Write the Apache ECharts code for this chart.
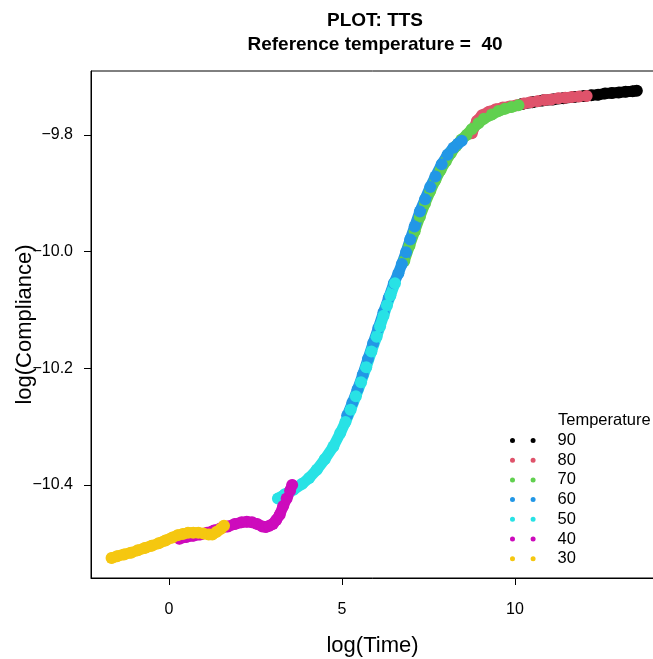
<!DOCTYPE html>
<html>
<head>
<meta charset="utf-8">
<script src="https://cdn.jsdelivr.net/npm/echarts@6/dist/echarts.min.js"></script>
<style>
html,body{margin:0;padding:0;background:#fff;}
#chart{width:653px;height:659px;}
</style>
</head>
<body>
<div id="chart"></div>
<script>
// Temperatures (legend order, also drawing order)
const temperatures = ['90', '80', '70', '60', '50', '40', '30'];
const temperatureColors = ['#000000', '#DF536B', '#61D04F', '#2297E6', '#28E2E5', '#CD0BBC', '#F5C710'];

// Shifted data: [log(Time), log(Compliance)]
const temp90 = [[10.20,-9.747],[10.50,-9.744],[10.80,-9.741],[11.10,-9.739],[11.40,-9.737],[11.70,-9.735],[12.00,-9.733],[12.20,-9.732],[12.40,-9.731],[12.60,-9.729],[12.80,-9.728],[13.00,-9.727],[13.20,-9.726],[13.40,-9.725],[13.52,-9.724]];
const temp80 = [[8.75,-9.797],[8.90,-9.776],[9.05,-9.766],[9.25,-9.760],[9.45,-9.756],[9.65,-9.753],[9.85,-9.751],[10.05,-9.749],[10.25,-9.746],[10.45,-9.744],[10.65,-9.742],[10.85,-9.740],[11.05,-9.739],[11.25,-9.737],[11.45,-9.736],[11.65,-9.735],[11.85,-9.734],[12.07,-9.733]];
const temp70 = [[6.80,-10.016],[6.95,-9.990],[7.10,-9.965],[7.25,-9.940],[7.40,-9.917],[7.55,-9.896],[7.70,-9.877],[7.85,-9.860],[8.00,-9.845],[8.15,-9.831],[8.30,-9.819],[8.45,-9.808],[8.60,-9.800],[8.75,-9.790],[8.94,-9.780],[9.10,-9.772],[9.33,-9.765],[9.52,-9.759],[9.71,-9.755],[9.90,-9.752],[10.10,-9.749]];
const temp60 = [[5.15,-10.281],[5.30,-10.259],[5.45,-10.236],[5.60,-10.211],[5.75,-10.184],[5.90,-10.157],[6.05,-10.131],[6.20,-10.104],[6.35,-10.079],[6.50,-10.054],[6.63,-10.037],[6.73,-10.021],[6.85,-10.001],[6.97,-9.979],[7.10,-9.957],[7.25,-9.931],[7.40,-9.910],[7.55,-9.889],[7.70,-9.871],[7.88,-9.850],[8.05,-9.834],[8.22,-9.822],[8.35,-9.815],[8.46,-9.810]];
const temp50 = [[3.15,-10.423],[3.35,-10.416],[3.60,-10.408],[3.85,-10.398],[4.05,-10.388],[4.27,-10.374],[4.50,-10.356],[4.75,-10.334],[4.95,-10.311],[5.10,-10.292],[5.25,-10.271],[5.40,-10.248],[5.55,-10.224],[5.70,-10.198],[5.85,-10.171],[6.00,-10.146],[6.10,-10.128],[6.20,-10.110],[6.30,-10.092],[6.40,-10.075],[6.53,-10.054]];
const temp40 = [[0.30,-10.492],[0.50,-10.489],[0.70,-10.487],[0.90,-10.485],[1.10,-10.482],[1.30,-10.478],[1.50,-10.474],[1.70,-10.471],[1.90,-10.467],[2.10,-10.464],[2.25,-10.463],[2.40,-10.464],[2.55,-10.467],[2.70,-10.471],[2.80,-10.472],[2.90,-10.470],[3.00,-10.467],[3.10,-10.460],[3.20,-10.451],[3.30,-10.436],[3.40,-10.423],[3.50,-10.410],[3.56,-10.400]];
const temp30 = [[-1.66,-10.525],[-1.50,-10.522],[-1.30,-10.519],[-1.10,-10.516],[-0.90,-10.512],[-0.70,-10.508],[-0.50,-10.504],[-0.30,-10.500],[-0.10,-10.495],[0.10,-10.490],[0.25,-10.486],[0.40,-10.484],[0.55,-10.482],[0.70,-10.482],[0.85,-10.482],[1.00,-10.483],[1.15,-10.485],[1.25,-10.485],[1.38,-10.480],[1.50,-10.475],[1.59,-10.470]];
const seriesData = [temp90, temp80, temp70, temp60, temp50, temp40, temp30];

// Tick labels
const xTicks = [0, 5, 10];
const yTicks = [-10.4, -10.2, -10.0, -9.8];

const FONT = '"Liberation Sans", Arial, Helvetica, sans-serif';
const chart = echarts.init(document.getElementById('chart'), null, {renderer: 'canvas'});

const option = {
  animation: false,
  backgroundColor: '#ffffff',
  title: [{
    text: 'PLOT: TTS\nReference temperature =  40',
    left: 375, top: 8.4, padding: 0, textAlign: 'center',
    textStyle: {fontFamily: FONT, fontSize: 19, fontWeight: 'bold', color: '#000', lineHeight: 24}
  }, {
    text: 'Temperature',
    left: 558, top: 412.7, padding: 0,
    textStyle: {fontFamily: FONT, fontSize: 16.5, fontWeight: 'normal', color: '#000', lineHeight: 16.5}
  }],
  legend: {
    orient: 'vertical',
    left: 510, top: 432,
    padding: 0,
    itemGap: 2.7,
    itemWidth: 25.6, itemHeight: 5,
    icon: 'path://M0,2.5A2.5,2.5,0,1,0,5,2.5A2.5,2.5,0,1,0,0,2.5ZM20.6,2.5A2.5,2.5,0,1,0,25.6,2.5A2.5,2.5,0,1,0,20.6,2.5Z',
    itemStyle: {borderWidth: 0},
    selectedMode: false,
    data: temperatures,
    textStyle: {fontFamily: FONT, fontSize: 16.5, color: '#000', lineHeight: 16.5, padding: [0, 0, 0, 17]}
  },
  grid: {left: 91, top: 71, width: 563, height: 507, show: true, borderColor: '#000', borderWidth: 1,
    containLabel: false, outerBoundsMode: 'none'},
  xAxis: {
    type: 'value', min: -2.254, max: 14.017,
    name: 'log(Time)', nameLocation: 'middle', nameGap: 57, nameMoveOverlap: false,
    nameTextStyle: {fontFamily: FONT, fontSize: 22, color: '#000'},
    axisLine: {show: true, onZero: false, lineStyle: {color: '#000', width: 1}},
    axisTick: {show: true, length: 7, lineStyle: {color: '#000'}, customValues: xTicks},
    axisLabel: {fontFamily: FONT, fontSize: 16, color: '#000', margin: 24, customValues: xTicks, formatter: v => String(v)},
    splitLine: {show: false}
  },
  yAxis: {
    type: 'value', min: -10.5594, max: -9.6903,
    name: 'log(Compliance)', nameLocation: 'middle', nameGap: 55.5, nameRotate: 90, nameMoveOverlap: false,
    nameTextStyle: {fontFamily: FONT, fontSize: 22, color: '#000'},
    axisLine: {show: true, onZero: false, lineStyle: {color: '#000', width: 1}},
    axisTick: {show: true, length: 7, lineStyle: {color: '#000'}, customValues: yTicks},
    axisLabel: {fontFamily: FONT, fontSize: 16, color: '#000', margin: 18, customValues: yTicks,
      formatter: v => v.toFixed(1).replace('-', '\u2212')},
    splitLine: {show: false}
  },
  series: temperatures.map((t, i) => ({
    name: t,
    type: 'line',
    data: seriesData[i],
    color: temperatureColors[i],
    symbol: 'circle',
    symbolSize: 12,
    showSymbol: true,
    showAllSymbol: true,
    itemStyle: {color: temperatureColors[i], borderWidth: 0},
    lineStyle: {color: temperatureColors[i], width: 11, cap: 'round', join: 'round'},
    emphasis: {disabled: true},
    silent: true,
    clip: true
  }))
};
chart.setOption(option);
</script>
</body>
</html>
